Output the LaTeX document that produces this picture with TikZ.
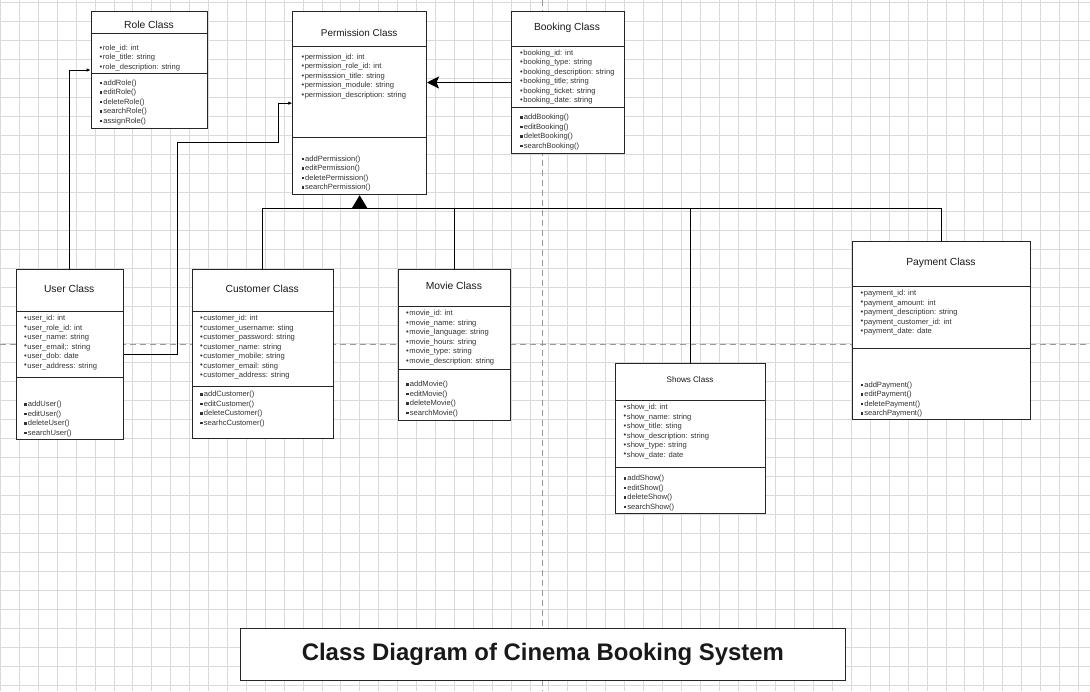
\documentclass[tikz,border=0pt]{standalone}
\usepackage{fontspec}
\setmainfont{Liberation Sans}
\usetikzlibrary{arrows.meta}
\definecolor{gridc}{HTML}{DADADA}
\definecolor{txt}{HTML}{333333}
\newcommand\bul{{\raisebox{0.2pt}{\textbullet}\hspace{0.6pt}}}
\newcommand\sqb{\rule[1.2pt]{2.6pt}{2.6pt}\hspace{1pt}}
\newcommand\umlbox[7]{%
  \node[box, anchor=north west, minimum width={#4-#2}, minimum height={#5-#3}] (#1) at (#2,#3) {};
  \draw[boxline] (#1.west |- 0,#6) -- (#1.east |- 0,#6) (#1.west |- 0,#7) -- (#1.east |- 0,#7);}
\newcommand\compart[5]{%
  \foreach \t [count=\i] in {#5} {\node[attr] (#1\i) at (#2,{#3+9.5*(\i-1)}) {#4\t};}}
\begin{document}
\begin{tikzpicture}[x=1pt,y=-1pt,
  box/.style={draw=black!85, line width=1pt, fill=white, inner sep=0pt},
  boxline/.style={draw=black!85, line width=1pt},
  attr/.style={anchor=mid west, inner sep=0pt, text=txt, font=\fontsize{7.6}{9}\selectfont},
  cls/.style={anchor=mid, inner sep=0pt, text=black!90, font=\fontsize{10.3}{12}\selectfont},
  grid/.style={draw=gridc, line width=0.7pt},
  pagebreak/.style={draw=black!40, line width=0.8pt, dash pattern=on 6pt off 4pt},
  conn/.style={draw=black, line width=0.9pt},
  smallarrow/.style={conn, -{Latex[length=4pt,width=3.5pt]}}]
\useasboundingbox (0,0) rectangle (1090,691);
\fill[white] (0,0) rectangle (1090,691);
% grid
\foreach \k in {0,...,58} \draw[grid] ({0.39+18.91*\k},0) -- ++(0,691);
\foreach \k in {0,...,36} \draw[grid] (0,{2.7+18.95*\k}) -- ++(1090,0);
% page breaks
\draw[pagebreak] (542.5,0) -- (542.5,691);
\draw[pagebreak] (0,344.5) -- (1090,344.5);

% Role
\umlbox{role}{90.7}{11}{207.3}{128}{33.3}{73.3}
\node[cls] (roleT) at (149,26) {Role Class};
\compart{roleA}{99.5}{47.7}{\bul}{role\_id: int, role\_title: string, role\_description: string}
\compart{roleM}{99.5}{82.7}{\sqb}{addRole(), editRole(), deleteRole(), searchRole(), assignRole()}

% Permission
\umlbox{perm}{292.3}{11}{426}{194.3}{46}{137.3}
\node[cls, font=\fontsize{9.9}{12}\selectfont] (permT) at (359.2,34.3) {Permission Class};
\compart{permA}{301.3}{56.7}{\bul}{permission\_id: int, permission\_role\_id: int, permisssion\_title: string, permission\_module: string, permission\_description: string}
\compart{permM}{301.3}{158.7}{\sqb}{addPermission(), editPermission(), deletePermission(), searchPermission()}

% Booking
\umlbox{book}{511}{11.3}{623.7}{152.7}{46.7}{107.7}
\node[cls] (bookT) at (567,28) {Booking Class};
\compart{bookA}{520}{52.7}{\bul}{booking\_id: int, booking\_type: string, booking\_description: string, booking\_title; string, booking\_ticket: string, booking\_date: string}
\compart{bookM}{520}{117.3}{\sqb}{addBooking(), editBooking(), deletBooking(), searchBooking()}

% User
\umlbox{user}{15.7}{269}{122.7}{439}{311}{377.3}
\node[cls] (userT) at (69.2,290.3) {User Class};
\compart{userA}{24}{318}{\bul}{user\_id: int, user\_role\_id: int, user\_name: string, user\_email;: string, user\_dob: date, user\_address: string}
\compart{userM}{24}{404.3}{\sqb}{addUser(), editUser(), deleteUser(), searchUser()}

% Customer
\umlbox{cust}{191.7}{269}{332.7}{438.3}{311}{386.7}
\node[cls] (custT) at (262.2,290.3) {Customer Class};
\compart{custA}{200}{318}{\bul}{customer\_id: int, customer\_username: sting, customer\_password: string, customer\_name: string, customer\_mobile: string, customer\_email: sting, customer\_address: string}
\compart{custM}{200}{394.3}{\sqb}{addCustomer(), editCustomer(), deleteCustomer(), searhcCustomer()}

% Movie
\umlbox{movie}{397.7}{269}{510}{420}{306.7}{369}
\node[cls] (movieT) at (453.9,287) {Movie Class};
\compart{movieA}{406}{313.3}{\bul}{movie\_id: int, movie\_name: string, movie\_language: string, movie\_hours: string, movie\_type: string, movie\_description: string}
\compart{movieM}{406}{384.3}{\sqb}{addMovie(), editMovie(), deleteMovie(), searchMovie()}

% Shows
\umlbox{shows}{614.7}{363}{765.3}{513.3}{400.3}{467.3}
\node[cls, font=\fontsize{8.1}{10}\selectfont] (showsT) at (690,380) {Shows Class};
\compart{showsA}{623.5}{407}{\bul}{show\_id: int, show\_name: string, show\_title: sting, show\_description: string, show\_type: string, show\_date: date}
\compart{showsM}{623.5}{478.3}{\sqb}{addShow(), editShow(), deleteShow(), searchShow()}

% Payment
\umlbox{pay}{852}{241.3}{1030.3}{419.3}{286}{348.3}
\node[cls] (payT) at (941,263.3) {Payment Class};
\compart{payA}{860.5}{293}{\bul}{payment\_id: int, payment\_amount: int, payment\_description: string, payment\_customer\_id: int, payment\_date: date}
\compart{payM}{860.5}{384.7}{\sqb}{addPayment(), editPayment(), deletePayment(), searchPayment()}

% connectors
\draw[smallarrow] (user.north) |- (role.west);
\coordinate (k1) at (177.5,142.3);
\coordinate (k2) at (278.3,142.3);
\draw[smallarrow] (user.east) -| (k1) -- (k2) |- (perm.west);
\draw[conn, -{Stealth[length=12pt,width=12pt,inset=2.5pt]}] (book.west) -- (perm.east |- book.west);
\coordinate (hub) at (perm.south |- 0,208.3);
\draw[conn, -{Triangle[length=13.5pt,width=16pt]}] (hub) -- (perm.south);
\draw[conn] (cust.north) |- (pay.north |- hub) -- (pay.north);
\draw[conn] (movie.north) -- (movie.north |- hub);
\draw[conn] (shows.north) -- (shows.north |- hub);

% title
\node[box, minimum width=605.2pt, minimum height=51.7pt, font=\fontsize{23.9}{28}\selectfont\bfseries, text=black!90] (title) at (542.9,654.2) {Class Diagram of Cinema Booking System};
\end{tikzpicture}
\end{document}
